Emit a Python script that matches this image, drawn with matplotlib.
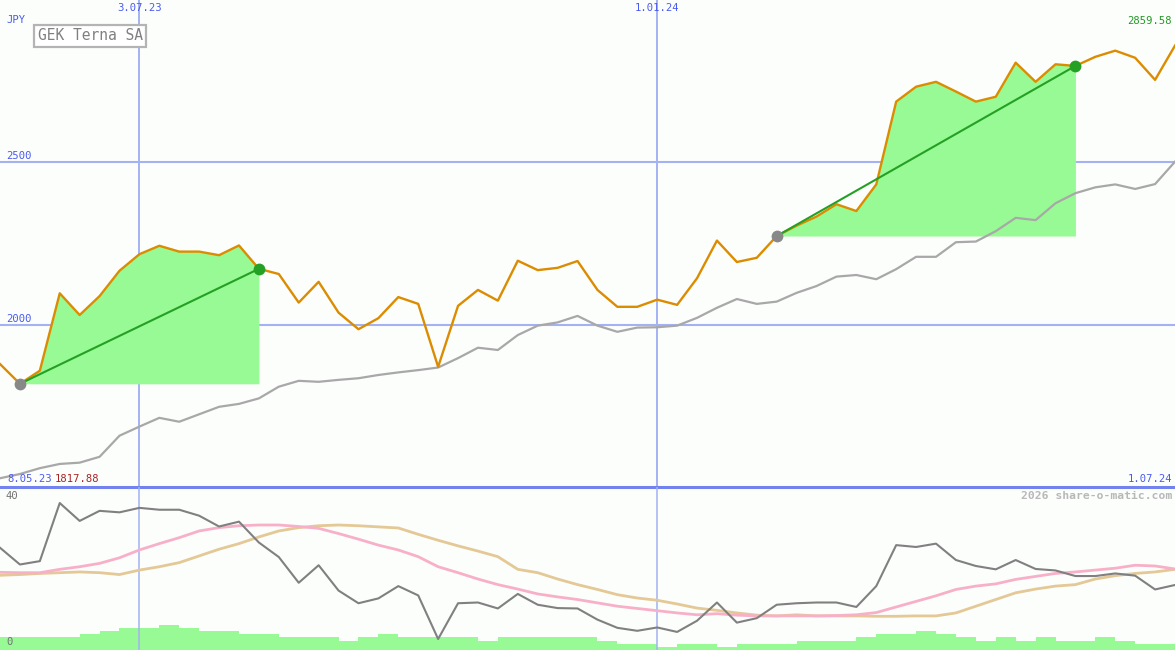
import matplotlib
matplotlib.use("Agg")
import matplotlib.pyplot as plt
import pandas as pd
import numpy as np

# ---------------- data ----------------
start_date = "2023-05-15"
n_weeks = 60
price = [1878.8, 1817.88, 1858.2, 2096.6, 2029.7, 2088, 2166, 2217, 2243, 2225,
         2225, 2214, 2244, 2172, 2156, 2068, 2132, 2037, 1986, 2020,
         2085, 2064, 1870, 2058, 2107, 2074, 2197, 2168, 2175, 2196,
         2107, 2055, 2055, 2077, 2061, 2143, 2259, 2193, 2206, 2273,
         2305, 2333, 2371, 2350, 2432, 2687, 2733, 2748, 2718, 2687,
         2702, 2807, 2748, 2802, 2797, 2825, 2844, 2822, 2754, 2859.58]
avg_line = [1527, 1540, 1558, 1571, 1575, 1593, 1658, 1686, 1713, 1701,
            1724, 1747, 1756, 1773, 1809, 1827, 1824, 1830, 1835, 1845,
            1853, 1860, 1868, 1897, 1929, 1922, 1968, 1997, 2007, 2027,
            1997, 1978, 1991, 1992, 1997, 2021, 2052, 2079, 2064, 2071,
            2098, 2119, 2148, 2153, 2140, 2171, 2209, 2209, 2254, 2256,
            2288, 2329, 2322, 2374, 2405, 2423, 2432, 2418, 2433, 2502]
trend_starts = [1, 39]
trend_ends = [13, 54]

osc = [26.1, 21.6, 22.5, 38.1, 33.3, 36.0, 35.6, 36.8, 36.3, 36.3,
       34.7, 31.8, 33.1, 27.5, 23.6, 16.7, 21.4, 14.6, 11.2, 12.5,
       15.8, 13.3, 1.6, 11.2, 11.4, 9.8, 13.7, 10.8, 9.9, 9.8,
       6.8, 4.6, 3.8, 4.7, 3.5, 6.5, 11.4, 6.0, 7.2, 10.8,
       11.2, 11.4, 11.4, 10.2, 15.8, 26.8, 26.3, 27.2, 22.8, 21.2,
       20.3, 22.8, 20.4, 20.0, 18.5, 18.5, 19.2, 18.6, 14.9, 16.1]
osc_fast = [19.5, 19.4, 19.4, 20.3, 21.0, 21.9, 23.4, 25.5, 27.2, 28.8,
            30.6, 31.5, 32.0, 32.2, 32.2, 31.8, 31.3, 29.9, 28.4, 26.8,
            25.5, 23.7, 21.0, 19.4, 17.7, 16.2, 15.0, 13.7, 12.9, 12.2,
            11.3, 10.4, 9.8, 9.2, 8.6, 8.1, 8.4, 8.0, 7.8, 7.8,
            7.8, 7.8, 7.9, 8.1, 8.7, 10.2, 11.7, 13.2, 14.9, 15.8,
            16.4, 17.6, 18.4, 19.2, 19.6, 20.1, 20.6, 21.4, 21.2, 20.4]
osc_slow = [18.7, 18.9, 19.2, 19.4, 19.6, 19.4, 18.9, 20.1, 21.0, 22.1,
            23.9, 25.7, 27.2, 29.0, 30.6, 31.5, 32.0, 32.2, 32.0, 31.7,
            31.4, 29.7, 28.1, 26.6, 25.2, 23.7, 20.3, 19.4, 17.7, 16.2,
            14.9, 13.5, 12.6, 12.0, 11.0, 9.9, 9.3, 8.6, 8.0, 7.8,
            8.1, 7.8, 7.8, 7.8, 7.7, 7.7, 7.8, 7.8, 8.6, 10.4,
            12.2, 14.0, 15.0, 15.8, 16.2, 17.7, 18.6, 19.2, 19.6, 20.3]
volume = [4, 4, 4, 4, 5, 6, 7, 7, 8, 7,
          6, 6, 5, 5, 4, 4, 4, 3, 4, 5,
          4, 4, 4, 4, 3, 4, 4, 4, 4, 4,
          3, 2, 2, 1, 2, 2, 1, 2, 2, 2,
          3, 3, 3, 4, 5, 5, 6, 5, 4, 3,
          4, 3, 4, 3, 3, 4, 3, 2, 2]

vlines = ["2023-07-03", "2024-01-01"]
vline_labels = ["3.07.23", "1.01.24"]
hlines = [2000, 2500]
hline_labels = ["2500", "2000"]
title = "GEK Terna SA"
currency = "JPY"
left_date_label = "8.05.23"
right_date_label = "1.07.24"
min_label = "1817.88"
max_label = "2859.58"
osc_labels = ["40", "0"]
credit = "2026 share-o-matic.com"

# ---------------- styling ----------------
W, H = 1175, 650
BG = "#fcfefc"
GRID = "#a4b2f4"
BLUE_TXT = "#4a5af0"
ORANGE = "#dc8c00"
GRAYLINE = "#a8a8a8"
FILL = "#98fa94"
GREEN = "#24a024"
MONO = "DejaVu Sans Mono"

dates = pd.date_range(start_date, periods=n_weeks, freq="7D")

fig = plt.figure(figsize=(W / 100, H / 100), dpi=100, facecolor=BG)
ax = fig.add_axes([0, 163 / H, 1, 487 / H])
axl = fig.add_axes([0, 0, 1, 163 / H])
for a in (ax, axl):
    a.set_facecolor(BG)
    a.set_xlim(dates[0], dates[-1])
    for s in a.spines.values():
        s.set_visible(False)
    a.set_xticks([])
    a.set_yticks([])

ax.set_ylim(1500, 3000)

# grid
for h in hlines:
    ax.axhline(h, color=GRID, lw=1.5, zorder=1)
for v in vlines:
    ax.axvline(pd.Timestamp(v), color=GRID, lw=1.4, zorder=1)
    axl.axvline(pd.Timestamp(v), color=GRID, lw=1.1, zorder=1)
ax.axhline(1500, color="#7282ee", lw=2.2, zorder=5, clip_on=False)

# fills and trends
for s, e in zip(trend_starts, trend_ends):
    ax.fill_between(dates[s:e + 1], price[s:e + 1], price[s], color=FILL,
                    lw=0, zorder=2)

ax.plot(dates, avg_line, color=GRAYLINE, lw=1.6, zorder=3)
ax.plot(dates, price, color=ORANGE, lw=1.7, zorder=4)

for s, e in zip(trend_starts, trend_ends):
    ax.plot([dates[s], dates[e]], [price[s], price[e]], color=GREEN, lw=1.5,
            zorder=6)
    ax.plot(dates[s], price[s], "o", color="#888888", ms=8.5, mew=0, zorder=7)
    ax.plot(dates[e], price[e], "o", color=GREEN, ms=8.5, mew=0, zorder=7)

# lower panel
axl.set_ylim(-1.35, 42.4)
axv = axl.twinx()
axv.set_ylim(0, 52)
axv.set_xlim(dates[0], dates[-1])
axv.set_yticks([])
for s in axv.spines.values():
    s.set_visible(False)
widths = (dates[1:] - dates[:-1])
axv.bar(dates[:-1], volume, width=widths, align="edge", color=FILL, lw=0,
        zorder=2)
axl.set_zorder(axv.get_zorder() + 1)
axl.patch.set_visible(False)
axv.set_facecolor(BG)
axl.plot(dates, osc_slow, color="#e4c896", lw=2.0, zorder=3)
axl.plot(dates, osc_fast, color="#f8b0c8", lw=2.0, zorder=4)
axl.plot(dates, osc, color="#808080", lw=1.5, zorder=5)


def px(x, y):
    return x / W, 1 - y / H


fs = 7.6
fig.text(*px(6, 20), currency, color=BLUE_TXT, fontsize=fs, family=MONO,
         ha="left", va="center")
for v, lab in zip(vlines, vline_labels):
    xfrac = (pd.Timestamp(v) - dates[0]) / (dates[-1] - dates[0])
    fig.text(xfrac, 1 - 8 / H, lab, color=BLUE_TXT, fontsize=fs, family=MONO,
             ha="center", va="center")
fig.text(*px(1172, 21), max_label, color="#229922", fontsize=fs, family=MONO,
         ha="right", va="center")
fig.text(*px(6, 156), hline_labels[0], color=BLUE_TXT, fontsize=fs,
         family=MONO, ha="left", va="center")
fig.text(*px(6, 319), hline_labels[1], color=BLUE_TXT, fontsize=fs,
         family=MONO, ha="left", va="center")
fig.text(*px(7, 479), left_date_label, color=BLUE_TXT, fontsize=fs,
         family=MONO, ha="left", va="center")
fig.text(*px(55, 479), min_label, color="#aa2222", fontsize=fs, family=MONO,
         ha="left", va="center")
fig.text(*px(1172, 479), right_date_label, color=BLUE_TXT, fontsize=fs,
         family=MONO, ha="right", va="center")
fig.text(*px(6, 496), osc_labels[0], color="#707070", fontsize=fs,
         family=MONO, ha="left", va="center")
fig.text(*px(6, 642), osc_labels[1], color="#707070", fontsize=fs,
         family=MONO, ha="left", va="center")
fig.text(*px(1172, 496), credit, color="#b8b8b8", fontsize=8.2, family=MONO,
         weight="bold", ha="right", va="center")
fig.text(*px(90, 36), title, color="#808080", fontsize=10.5, family=MONO,
         ha="center", va="center",
         bbox=dict(boxstyle="square,pad=0.25", fc="white", ec="#b4b4b4",
                   lw=1.6))

fig.savefig("out.png", dpi=100, facecolor=BG)
